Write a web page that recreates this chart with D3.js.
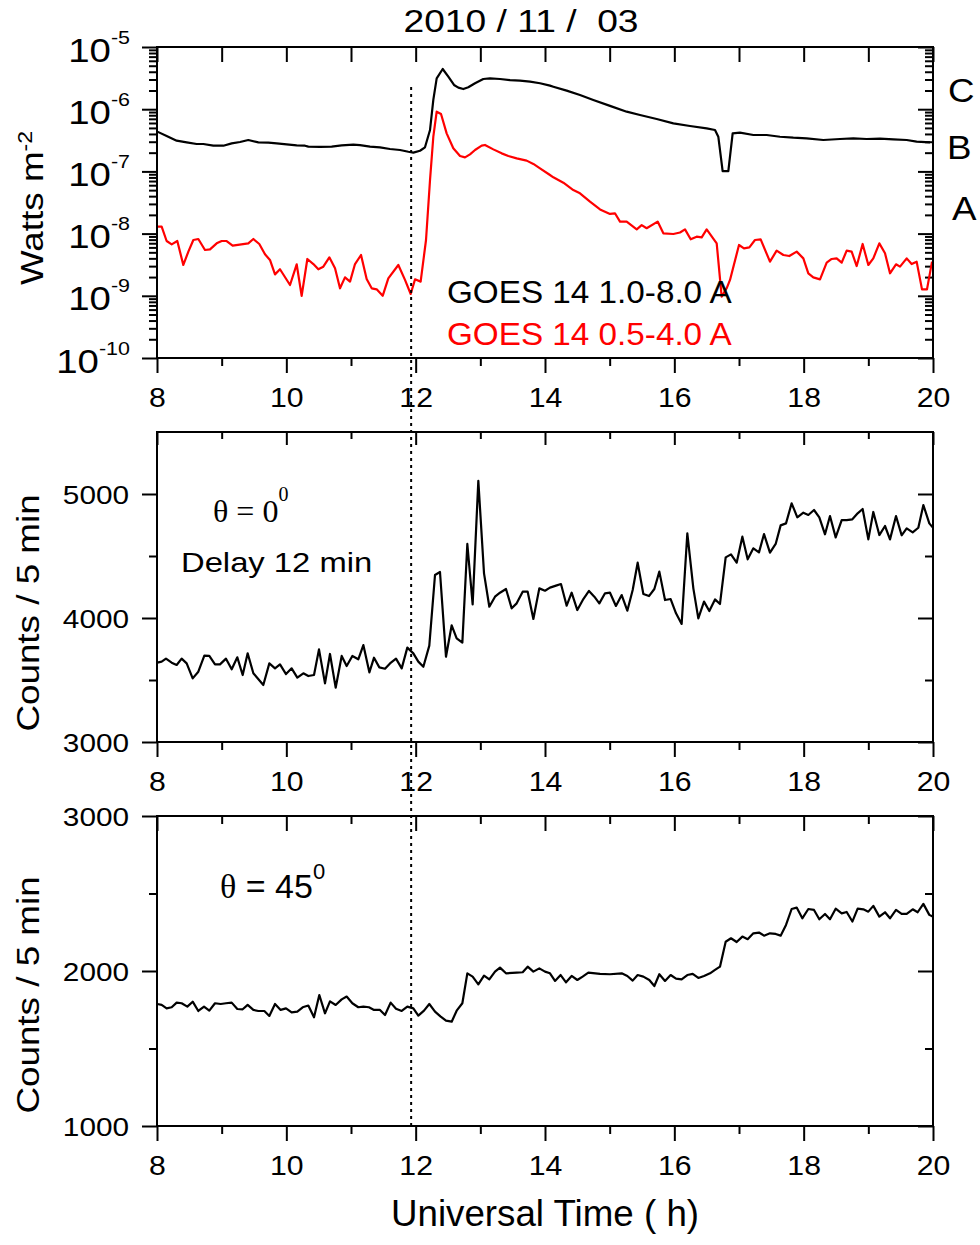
<!DOCTYPE html>
<html><head><meta charset="utf-8">
<script src="https://cdn.jsdelivr.net/npm/d3@7"></script>
<style>
body{margin:0;background:#fff}
svg{display:block}
text{font-family:"Liberation Sans",Arial,sans-serif;fill:#000}
</style>
</head><body>
<svg id="chart" width="980" height="1245"></svg>
<script>
// ---------------- DATA ----------------
const xMajorTicks = [8, 10, 12, 14, 16, 18, 20];
const xMinorTicks = [9, 11, 13, 15, 17, 19];
const logMajorTicks = [1e-10, 1e-9, 1e-8, 1e-7, 1e-6, 1e-5];
const cnt0MajorTicks = [3000, 4000, 5000];
const cnt0MinorTicks = [3500, 4500];
const cnt45MajorTicks = [1000, 2000, 3000];
const cnt45MinorTicks = [1500, 2500];
const flareClasses = ["C", "B", "A"];
const markerHour = 11.93;

// GOES 14 1.0-8.0 A (W m^-2)
const goesLongTime = [8.005,8.149,8.304,8.459,8.613,8.716,8.871,9.026,9.155,9.284,9.412,9.567,9.722,9.851,10.005,10.160,10.289,10.340,10.521,10.701,10.856,11.036,11.139,11.294,11.448,11.603,11.758,11.887,11.964,12.067,12.144,12.222,12.273,12.325,12.418,12.505,12.593,12.660,12.737,12.814,12.918,13.046,13.149,13.304,13.459,13.613,13.768,13.923,14.077,
14.129,14.335,14.541,14.747,15.005,15.263,15.469,15.727,15.985,16.242,16.500,16.629,16.680,16.747,16.835,16.902,17.015,17.222,17.428,17.634,17.840,18.046,18.304,18.562,18.768,18.974,19.180,19.387,19.593,19.747,19.954];
const goesLong = [4.36e-7,3.71e-7,3.12e-7,2.93e-7,2.76e-7,2.76e-7,2.59e-7,2.59e-7,2.82e-7,2.97e-7,3.20e-7,2.93e-7,2.90e-7,2.82e-7,2.72e-7,2.62e-7,2.59e-7,2.50e-7,2.47e-7,2.50e-7,2.62e-7,2.69e-7,2.65e-7,2.50e-7,2.44e-7,2.29e-7,2.21e-7,2.07e-7,2.00e-7,2.15e-7,2.44e-7,4.63e-7,1.41e-6,3.13e-6,4.43e-6,3.33e-6,2.45e-6,2.22e-6,2.11e-6,2.25e-6,2.61e-6,3.06e-6,3.13e-6,3.06e-6,2.94e-6,2.88e-6,2.77e-6,2.61e-6,2.39e-6,
2.30e-6,1.99e-6,1.69e-6,1.41e-6,1.13e-6,9.12e-7,8.07e-7,6.96e-7,5.93e-7,5.37e-7,4.92e-7,4.63e-7,3.61e-7,1.01e-7,1.01e-7,4.09e-7,4.20e-7,3.85e-7,3.85e-7,3.61e-7,3.48e-7,3.40e-7,3.20e-7,3.32e-7,3.40e-7,3.32e-7,3.36e-7,3.28e-7,3.20e-7,3.01e-7,2.93e-7];

// GOES 14 0.5-4.0 A (W m^-2)
const goesShortTime = [8.005,8.072,8.149,8.227,8.314,8.407,8.485,8.562,8.639,8.742,8.820,8.923,9.000,9.077,9.170,9.412,9.490,9.582,9.670,9.747,9.825,9.902,10.057,10.160,10.237,10.325,10.418,10.495,10.572,10.665,10.753,10.830,10.907,10.985,11.062,11.155,11.242,11.320,11.397,11.490,11.577,11.732,11.835,11.923,11.990,12.077,12.160,12.222,12.273,12.325,12.392,12.479,12.582,12.686,12.763,12.840,12.918,13.021,13.072,13.201,13.330,13.433,13.562,13.716,13.820,13.923,14.077,
14.129,14.284,14.438,14.541,14.696,14.851,15.005,15.082,15.160,15.263,15.418,15.495,15.572,15.742,15.830,15.985,16.088,16.165,16.253,16.345,16.423,16.500,16.655,16.732,16.809,16.861,17.000,17.077,17.160,17.247,17.335,17.479,17.582,17.686,17.778,17.892,17.995,18.072,18.149,18.253,18.356,18.433,18.510,18.588,18.665,18.742,18.820,18.912,19.000,19.077,19.170,19.258,19.335,19.428,19.490,19.593,19.670,19.747,19.830,19.907,19.985];
const goesShort = [1.29e-8,1.29e-8,7.60e-9,6.72e-9,7.60e-9,3.13e-9,5.13e-9,7.89e-9,8.19e-9,5.45e-9,5.58e-9,6.97e-9,7.60e-9,7.60e-9,6.40e-9,6.97e-9,8.19e-9,6.81e-9,4.65e-9,3.77e-9,2.21e-9,2.67e-9,1.49e-9,3.21e-9,1.00e-9,3.91e-9,3.24e-9,2.67e-9,2.94e-9,4.15e-9,2.77e-9,1.32e-9,1.98e-9,1.69e-9,3.24e-9,4.53e-9,1.86e-9,1.32e-9,1.27e-9,1.00e-9,1.91e-9,3.13e-9,1.80e-9,1.07e-9,1.84e-9,1.69e-9,7.89e-9,7.28e-8,3.61e-7,9.12e-7,8.37e-7,4.09e-7,2.35e-7,1.77e-7,1.68e-7,1.88e-7,2.21e-7,2.59e-7,2.66e-7,2.26e-7,1.95e-7,1.77e-7,1.62e-7,1.49e-7,1.32e-7,1.12e-7,8.75e-8,
8.04e-8,6.59e-8,5.02e-8,4.44e-8,3.26e-8,2.45e-8,2.07e-8,2.12e-8,1.56e-8,1.56e-8,1.17e-8,1.37e-8,1.22e-8,1.56e-8,1.01e-8,9.86e-9,1.04e-8,1.17e-8,8.09e-9,8.93e-9,8.71e-9,1.17e-8,6.97e-9,9.68e-10,1.32e-9,1.80e-9,6.56e-9,5.80e-9,6.01e-9,7.89e-9,8.09e-9,3.54e-9,5.32e-9,4.53e-9,4.36e-9,5.13e-9,4.00e-9,2.30e-9,1.98e-9,1.84e-9,3.41e-9,3.91e-9,4.00e-9,3.41e-9,5.32e-9,5.13e-9,3.01e-9,6.81e-9,3.13e-9,4.00e-9,6.97e-9,4.82e-9,2.30e-9,3.21e-9,2.94e-9,4.00e-9,3.24e-9,3.54e-9,1.27e-9,1.27e-9,3.54e-9];

// Counts / 5 min, theta = 0 deg
const cnt0Time = [8.005,8.072,8.139,8.227,8.304,8.381,8.459,8.552,8.639,8.732,8.809,8.897,8.974,9.067,9.155,9.242,9.325,9.402,9.490,9.644,9.737,9.825,9.902,9.995,10.082,10.170,10.263,10.340,10.428,10.505,10.598,10.675,10.763,10.856,10.933,11.021,11.113,11.191,11.284,11.356,11.438,11.526,11.603,11.696,11.784,11.871,11.964,12.041,12.119,12.211,12.299,12.376,12.469,12.557,12.634,12.722,12.799,12.881,12.969,13.057,13.139,13.227,13.304,13.397,13.485,13.562,13.655,13.732,13.820,13.912,14.000,
14.077,14.170,14.247,14.335,14.412,14.500,14.593,14.680,14.763,14.840,14.928,15.005,15.097,15.186,15.273,15.356,15.433,15.521,15.608,15.691,15.768,15.856,15.943,16.026,16.113,16.201,16.294,16.371,16.459,16.541,16.629,16.706,16.794,16.876,16.964,17.052,17.134,17.222,17.309,17.387,17.479,17.567,17.644,17.727,17.814,17.902,17.995,18.072,18.160,18.242,18.330,18.407,18.495,18.588,18.665,18.753,18.835,18.912,19.000,19.077,19.170,19.258,19.335,19.428,19.515,19.593,19.686,19.773,19.851,19.943,19.995];
const cnt0 = [3640,3648,3672,3640,3621,3672,3634,3513,3567,3696,3694,3626,3626,3672,3586,3683,3540,3715,3554,3460,3634,3594,3626,3548,3594,3519,3554,3532,3540,3747,3473,3710,3438,3694,3613,3694,3667,3782,3562,3680,3602,3591,3634,3672,3594,3761,3715,3648,3607,3777,4347,4371,3688,3941,3836,3801,4597,4110,5107,4360,4091,4172,4204,4234,4078,4118,4212,4212,3992,4239,4220,
4245,4261,4274,4099,4204,4064,4153,4218,4172,4118,4199,4204,4097,4185,4059,4226,4446,4193,4177,4234,4374,4145,4153,4038,3952,4683,4239,3997,4132,4056,4150,4113,4489,4513,4446,4656,4473,4562,4529,4677,4527,4597,4747,4763,4925,4812,4849,4831,4871,4812,4675,4822,4650,4790,4790,4796,4844,4879,4634,4855,4669,4742,4634,4822,4667,4723,4691,4728,4911,4763,4731];

// Counts / 5 min, theta = 45 deg
const cnt45Time = [8.005,8.072,8.149,8.227,8.304,8.381,8.469,8.552,8.639,8.727,8.809,8.897,8.985,9.067,9.155,9.242,9.325,9.402,9.490,9.567,9.660,9.737,9.825,9.912,9.995,10.082,10.170,10.253,10.340,10.428,10.510,10.598,10.675,10.763,10.856,10.933,11.021,11.113,11.191,11.278,11.356,11.448,11.526,11.613,11.696,11.784,11.871,11.964,12.041,12.129,12.211,12.299,12.387,12.469,12.557,12.634,12.722,12.799,12.881,12.969,13.057,13.139,13.227,13.304,13.397,13.562,13.655,13.732,13.820,13.912,14.000,
14.077,14.155,14.242,14.325,14.412,14.500,14.582,14.670,14.851,15.005,15.186,15.273,15.356,15.433,15.521,15.613,15.691,15.768,15.856,15.943,16.026,16.113,16.201,16.284,16.371,16.459,16.552,16.629,16.706,16.794,16.876,16.964,17.052,17.134,17.222,17.309,17.387,17.479,17.567,17.644,17.727,17.814,17.892,17.979,18.072,18.160,18.242,18.330,18.407,18.495,18.588,18.665,18.753,18.835,18.923,19.000,19.077,19.170,19.258,19.335,19.428,19.515,19.593,19.686,19.763,19.851,19.943,19.995];
const cnt45 = [1787,1781,1759,1766,1796,1792,1770,1802,1742,1770,1744,1792,1787,1792,1796,1755,1753,1781,1749,1742,1742,1710,1787,1749,1759,1733,1738,1766,1777,1701,1845,1727,1804,1781,1817,1835,1792,1766,1770,1766,1749,1749,1716,1796,1757,1742,1770,1759,1712,1744,1787,1738,1706,1680,1673,1744,1792,1985,1964,1914,1970,1946,1996,2022,1985,1989,1992,2028,1996,2017,1996,
1985,1936,1974,1927,1968,1942,1964,1989,1981,1979,1985,1968,1938,1974,1964,1942,1903,1979,1936,1974,1951,1946,1974,1981,1955,1968,1985,2007,2028,2189,2211,2187,2222,2205,2243,2248,2228,2243,2239,2228,2297,2400,2409,2340,2400,2394,2334,2368,2334,2402,2372,2381,2319,2402,2398,2383,2420,2351,2379,2340,2394,2368,2368,2398,2379,2433,2362,2351];

// ---------------- LAYOUT ----------------
const L = 157, R = 933;
const P1 = {top: 47, bottom: 358};
const P2 = {top: 432, bottom: 742};
const P3 = {top: 816, bottom: 1126};
const LW = 2.2;
const svg = d3.select("#chart");

const x = d3.scaleLinear().domain([8, 20]).range([L, R]);
const y1 = d3.scaleLog().domain([1e-10, 1e-5]).range([P1.bottom, P1.top]);
const y2 = d3.scaleLinear().domain([3000, 5500]).range([P2.bottom, P2.top]);
const y3 = d3.scaleLinear().domain([1000, 3000]).range([P3.bottom, P3.top]);

function clean(g) {
  g.select(".domain").remove();
  g.attr("font-family", null).attr("font-size", null);
  g.selectAll(".tick line").attr("stroke", "#000").attr("stroke-width", 2);
  return g;
}

function xAxes(P, topMaj, topMin) {
  const gb = svg.append("g").attr("transform", `translate(0,${P.bottom})`)
    .call(d3.axisBottom(x).tickValues(xMajorTicks).tickSize(15).tickSizeOuter(0).tickFormat(d3.format("d")));
  clean(gb);
  gb.selectAll(".tick text").attr("y", 0).attr("dy", 0).attr("font-size", 27)
    .attr("transform", "translate(0,49) scale(1.12,1)");
  clean(svg.append("g").attr("transform", `translate(0,${P.bottom})`)
    .call(d3.axisBottom(x).tickValues(xMinorTicks).tickSize(8).tickSizeOuter(0).tickFormat("")));
  clean(svg.append("g").attr("transform", `translate(0,${P.top})`)
    .call(d3.axisTop(x).tickValues(xMajorTicks).tickSize(-topMaj).tickSizeOuter(0).tickFormat("")));
  clean(svg.append("g").attr("transform", `translate(0,${P.top})`)
    .call(d3.axisTop(x).tickValues(xMinorTicks).tickSize(-topMin).tickSizeOuter(0).tickFormat("")));
}

function yLinAxes(y, major, minor) {
  const gl = clean(svg.append("g").attr("transform", `translate(${L},0)`)
    .call(d3.axisLeft(y).tickValues(major).tickSize(15).tickSizeOuter(0).tickFormat(d3.format("d"))));
  gl.selectAll(".tick text").attr("x", 0).attr("dy", "0.36em").attr("font-size", 25)
    .attr("transform", "translate(-28,0) scale(1.19,1)");
  clean(svg.append("g").attr("transform", `translate(${L},0)`)
    .call(d3.axisLeft(y).tickValues(minor).tickSize(8).tickSizeOuter(0).tickFormat("")));
  clean(svg.append("g").attr("transform", `translate(${R},0)`)
    .call(d3.axisRight(y).tickValues(major).tickSize(-15).tickSizeOuter(0).tickFormat("")));
  clean(svg.append("g").attr("transform", `translate(${R},0)`)
    .call(d3.axisRight(y).tickValues(minor).tickSize(-8).tickSizeOuter(0).tickFormat("")));
}

function frame(P) {
  svg.append("rect").attr("x", L).attr("y", P.top).attr("width", R - L).attr("height", P.bottom - P.top)
    .attr("fill", "none").attr("stroke", "#000").attr("stroke-width", 2);
}

function label(str, px, py, opt) {
  const o = Object.assign({size: 30, sx: 1, rot: 0, anchor: "start", fill: "#000", family: null}, opt || {});
  const g = svg.append("g").attr("transform", `translate(${px},${py}) rotate(${o.rot}) scale(${o.sx},1)`);
  const t = g.append("text").attr("font-size", o.size).attr("text-anchor", o.anchor)
    .style("fill", o.fill).style("white-space", "pre");
  if (o.family) t.style("font-family", o.family);
  if (str !== null) t.text(str);
  return t;
}

// ---------------- PANEL 1 (GOES) ----------------
xAxes(P1, 15, 15);
const logMinor = y1.ticks().filter(d => Math.abs(Math.log10(d) - Math.round(Math.log10(d))) > 1e-6);
const gl1 = clean(svg.append("g").attr("transform", `translate(${L},0)`)
  .call(d3.axisLeft(y1).tickValues(logMajorTicks).tickSize(15).tickSizeOuter(0)));
gl1.selectAll(".tick text").each(function(d) {
  const t = d3.select(this);
  t.text(null).attr("x", 0).attr("y", 14).attr("dy", 0).attr("font-size", 34)
    .attr("transform", "translate(-27,0) scale(1.13,1)");
  t.append("tspan").text("10");
  t.append("tspan").attr("dy", -18).attr("font-size", 19).text(String(Math.round(Math.log10(d))));
});
clean(svg.append("g").attr("transform", `translate(${L},0)`)
  .call(d3.axisLeft(y1).tickValues(logMinor).tickSize(8).tickSizeOuter(0).tickFormat("")));
clean(svg.append("g").attr("transform", `translate(${R},0)`)
  .call(d3.axisRight(y1).tickValues(logMajorTicks).tickSize(-15).tickSizeOuter(0).tickFormat("")));
clean(svg.append("g").attr("transform", `translate(${R},0)`)
  .call(d3.axisRight(y1).tickValues(logMinor).tickSize(-8).tickSizeOuter(0).tickFormat("")));

const line1 = d3.line().x(d => x(d[0])).y(d => y1(d[1]));
svg.append("path").datum(d3.zip(goesShortTime, goesShort)).attr("d", line1)
  .attr("fill", "none").attr("stroke", "#ff0000").attr("stroke-width", LW).attr("stroke-linejoin", "round");
svg.append("path").datum(d3.zip(goesLongTime, goesLong)).attr("d", line1)
  .attr("fill", "none").attr("stroke", "#000").attr("stroke-width", LW).attr("stroke-linejoin", "round");
frame(P1);

label("2010 / 11 /  03", 521, 32, {size: 31, sx: 1.2, anchor: "middle"});
const wt = label(null, 43, 208, {size: 32, sx: 1.15, rot: -90, anchor: "middle"});
wt.append("tspan").text("Watts m");
wt.append("tspan").attr("dy", -11).attr("font-size", 20).text("-2");
label("GOES 14 1.0-8.0 A", 447, 303, {size: 32, sx: 1.04});
label("GOES 14 0.5-4.0 A", 447, 345, {size: 32, sx: 1.04, fill: "#ff0000"});
const classPos = [[948, 102], [947, 159], [952, 220]];
flareClasses.forEach((c, i) => label(c, classPos[i][0], classPos[i][1], {size: 34, sx: 1.08}));

// ---------------- PANEL 2 ----------------
xAxes(P2, 13, 7);
yLinAxes(y2, cnt0MajorTicks, cnt0MinorTicks);
svg.append("path").datum(d3.zip(cnt0Time, cnt0))
  .attr("d", d3.line().x(d => x(d[0])).y(d => y2(d[1])))
  .attr("fill", "none").attr("stroke", "#000").attr("stroke-width", LW).attr("stroke-linejoin", "round");
frame(P2);
label("Counts / 5 min", 39, 613, {size: 32, sx: 1.15, rot: -90, anchor: "middle"});
const th0 = label(null, 213, 522, {size: 32, family: '"Liberation Serif","Times New Roman",serif'});
th0.append("tspan").text("\u03b8 = 0");
th0.append("tspan").attr("dy", -21).attr("font-size", 20).text("0");
label("Delay 12 min", 181, 572, {size: 28, sx: 1.17});

// ---------------- PANEL 3 ----------------
xAxes(P3, 15, 8);
yLinAxes(y3, cnt45MajorTicks, cnt45MinorTicks);
svg.append("path").datum(d3.zip(cnt45Time, cnt45))
  .attr("d", d3.line().x(d => x(d[0])).y(d => y3(d[1])))
  .attr("fill", "none").attr("stroke", "#000").attr("stroke-width", LW).attr("stroke-linejoin", "round");
frame(P3);
label("Counts / 5 min", 39, 995, {size: 32, sx: 1.15, rot: -90, anchor: "middle"});
const th45 = label(null, 220, 898, {size: 34});
th45.append("tspan").style("font-family", '"Liberation Serif","Times New Roman",serif').text("\u03b8");
th45.append("tspan").text(" = 45");
th45.append("tspan").attr("dy", -19).attr("font-size", 22).text("0");

label("Universal Time ( h)", 545, 1226, {size: 36, sx: 1.02, anchor: "middle"});

// ---------------- DOTTED MARKER ----------------
svg.append("line").attr("x1", x(markerHour)).attr("x2", x(markerHour))
  .attr("y1", 87).attr("y2", P3.bottom)
  .attr("stroke", "#000").attr("stroke-width", 2).attr("stroke-dasharray", "3,4");
</script>
</body></html>
